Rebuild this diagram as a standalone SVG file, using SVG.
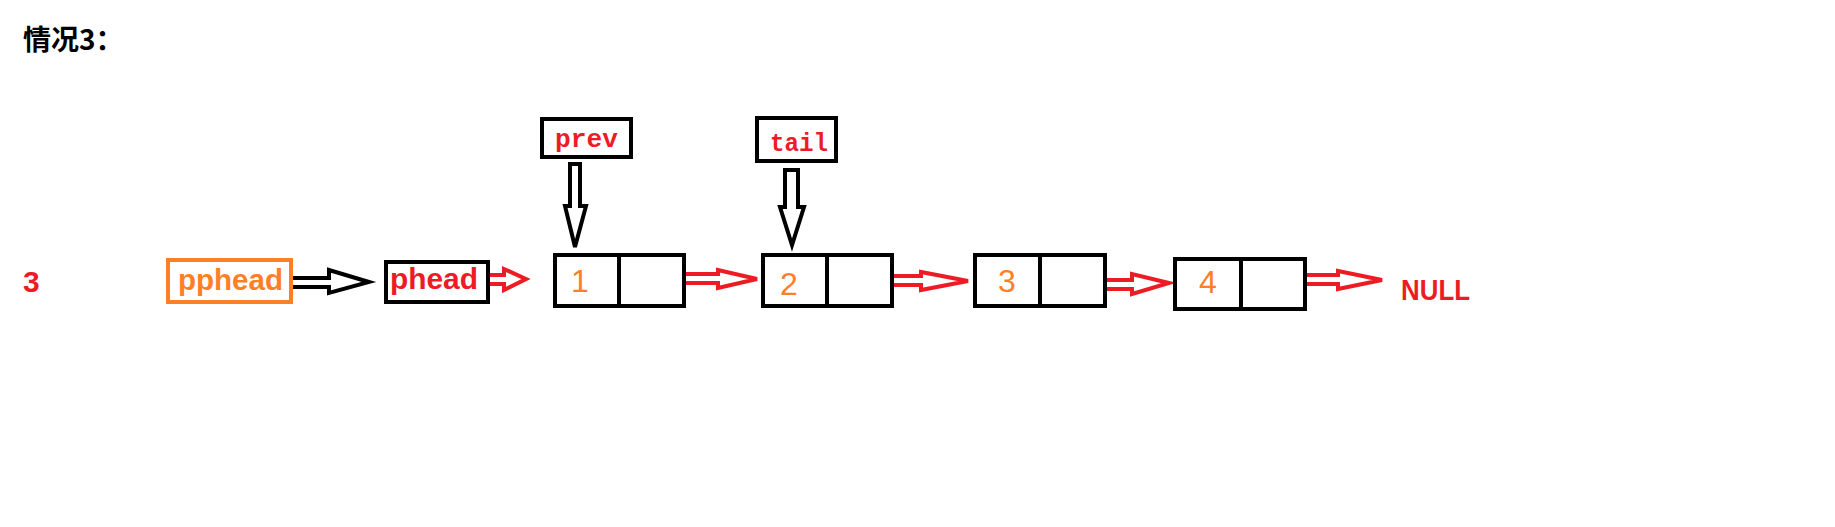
<svg xmlns="http://www.w3.org/2000/svg" width="1835" height="527" viewBox="0 0 1835 527">
<style>
.box{fill:#fff;stroke:#000;stroke-width:4}
.obox{fill:#fff;stroke:#FF7F27;stroke-width:4}
.div{stroke:#000;stroke-width:4}
.ra{fill:#fff;stroke:#ED1C24;stroke-width:4;stroke-linejoin:miter}
.ba{fill:#fff;stroke:#000;stroke-width:4;stroke-linejoin:miter}
.t{font-family:"Liberation Sans",Arial,sans-serif;font-size:30px}
.b{font-weight:bold}
.red{fill:#ED1C24}
.org{fill:#FF7F27}
.mono{font-family:"Liberation Mono","DejaVu Sans Mono",monospace;font-weight:bold;font-size:26px;fill:#ED1C24}
.num{font-family:"Liberation Sans",Arial,sans-serif;font-size:32px;fill:#FF7F27;text-anchor:middle}
</style>
<rect width="1835" height="527" fill="#fff"/>
<text x="23" y="50" font-family="'Noto Sans CJK SC',sans-serif" font-weight="bold" font-size="28" fill="#000">情况3：</text>
<text class="t b red" x="23" y="292" font-size="28">3</text>

<g id="connectors">
<polygon class="ba" points="285,278 329,278 329,270 369,282 329,293 329,287 285,287"/>
<polygon class="ra" points="483,275 504,275 504,269 526,279 504,290 504,284 483,284"/>
<polygon class="ra" points="675,274 718,274 718,270 757,279 718,288 718,283 675,283"/>
<polygon class="ra" points="875,276 921,276 921,272 968,281 921,290 921,285 875,285"/>
<polygon class="ra" points="1093,280 1132,280 1132,274 1169,283 1132,294 1132,289 1093,289"/>
<polygon class="ra" points="1294,275 1338,275 1338,271 1382,280 1338,289 1338,284 1294,284"/>
<polygon class="ba" points="570,164 580,164 580,206 586,206 575,247 565,206 570,206"/>
<polygon class="ba" points="785,170 798,170 798,207 804,207 792,245 780,207 785,207"/>
</g>

<g id="pphead">
<rect class="obox" x="168" y="260" width="123" height="42" fill="none"/>
<text class="t b org" x="178" y="290" textLength="105" lengthAdjust="spacingAndGlyphs">pphead</text>
</g>
<g id="phead">
<rect class="box" x="386" y="262" width="102" height="40"/>
<text class="t b red" x="390" y="289" textLength="88" lengthAdjust="spacingAndGlyphs">phead</text>
</g>
<g id="prev">
<rect class="box" x="542" y="119" width="89" height="38"/>
<text class="mono" x="555" y="147" textLength="63" lengthAdjust="spacingAndGlyphs">prev</text>
</g>
<g id="tail">
<rect class="box" x="757" y="118" width="79" height="43"/>
<text class="mono" x="770" y="151" textLength="58" lengthAdjust="spacingAndGlyphs">tail</text>
</g>
<g id="node1">
<rect class="box" x="555" y="255" width="129" height="51"/>
<line class="div" x1="619" y1="255" x2="619" y2="306"/>
<text class="num" x="580" y="292">1</text>
</g>
<g id="node2">
<rect class="box" x="763" y="255" width="129" height="51"/>
<line class="div" x1="827" y1="255" x2="827" y2="306"/>
<text class="num" x="789" y="295">2</text>
</g>
<g id="node3">
<rect class="box" x="975" y="255" width="130" height="51"/>
<line class="div" x1="1040" y1="255" x2="1040" y2="306"/>
<text class="num" x="1007" y="292">3</text>
</g>
<g id="node4">
<rect class="box" x="1175" y="259" width="130" height="50"/>
<line class="div" x1="1241" y1="259" x2="1241" y2="309"/>
<text class="num" x="1208" y="293">4</text>
</g>
<g id="null">
<text class="t b red" x="1401" y="300" font-size="32" textLength="69" lengthAdjust="spacingAndGlyphs">NULL</text>
</g>
</svg>
